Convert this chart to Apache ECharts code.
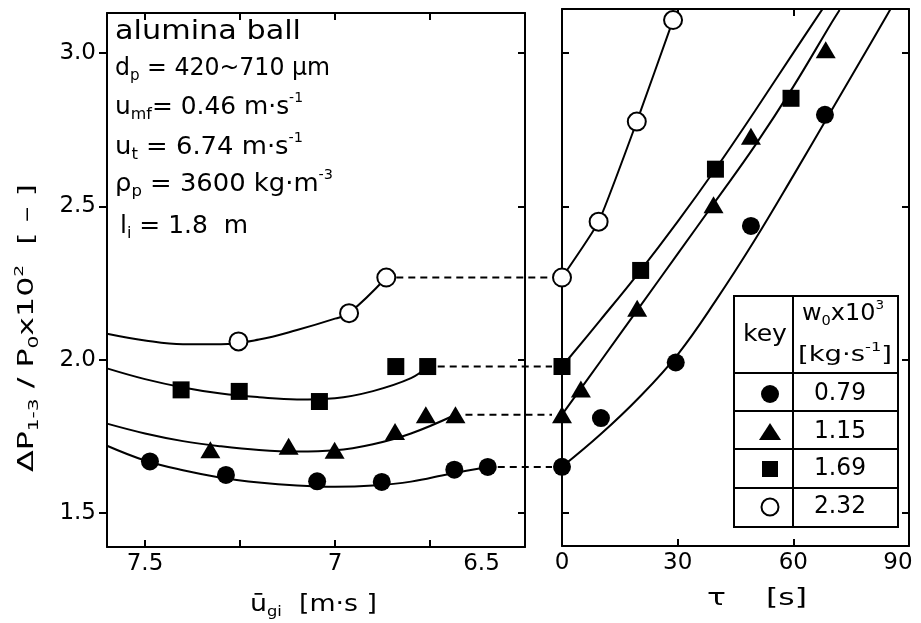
<!DOCTYPE html>
<html>
<head>
<meta charset="utf-8">
<script src="https://cdn.jsdelivr.net/npm/echarts@6/dist/echarts.min.js"></script>
<style>
  html, body { margin: 0; padding: 0; background: #fff; }
  #chart { width: 921px; height: 623px; }
</style>
</head>
<body>
<div id="chart"></div>
<script>
// ---------------- data ----------------
// Left panel: ΔP1-3/P0 ×10^2 against mean gas velocity ū_gi [m/s]
const ugiW079 = [[7.487, 1.669], [7.287, 1.625], [7.047, 1.604], [6.877, 1.602], [6.686, 1.642], [6.598, 1.651]];
const ugiW115 = [[7.328, 1.707], [7.122, 1.718], [7.001, 1.705], [6.842, 1.766], [6.761, 1.821], [6.683, 1.821]];
const ugiW169 = [[7.405, 1.902], [7.252, 1.897], [7.041, 1.864], [6.840, 1.978], [6.756, 1.978]];
const ugiW232 = [[7.254, 2.060], [6.963, 2.152], [6.865, 2.268]];

// fitted curves, left panel
const ugiFit079 = [[7.6, 1.720], [7.5, 1.672], [7.4, 1.640], [7.3, 1.616], [7.2, 1.600], [7.1, 1.590], [7.0, 1.586], [6.9, 1.590], [6.8, 1.603], [6.7, 1.628], [6.598, 1.651]];
const ugiFit115 = [[7.6, 1.792], [7.5, 1.760], [7.4, 1.735], [7.3, 1.718], [7.2, 1.706], [7.1, 1.701], [7.0, 1.705], [6.9, 1.725], [6.8, 1.760], [6.683, 1.821]];
const ugiFit169 = [[7.6, 1.972], [7.5, 1.937], [7.4, 1.910], [7.3, 1.890], [7.2, 1.878], [7.1, 1.871], [7.0, 1.875], [6.9, 1.898], [6.8, 1.940], [6.756, 1.978]];
const ugiFit232 = [[7.6, 2.085], [7.5, 2.063], [7.4, 2.051], [7.3, 2.051], [7.2, 2.066], [7.1, 2.097], [7.0, 2.134], [6.963, 2.152], [6.865, 2.268]];

// Right panel: same ratio against time τ [s]
const tauW079 = [[0, 1.651], [10.1, 1.810], [29.5, 1.991], [49.0, 2.436], [68.2, 2.798]];
const tauW115 = [[0, 1.821], [4.9, 1.905], [19.5, 2.168], [39.3, 2.505], [49.0, 2.728], [68.4, 3.010]];
const tauW169 = [[0, 1.978], [20.4, 2.291], [39.8, 2.621], [59.4, 2.852]];
const tauW232 = [[0, 2.268], [9.5, 2.450], [19.4, 2.776], [28.8, 3.107]];

// fitted curves, right panel
const tauFit079 = [[0, 1.651], [10, 1.757], [20, 1.877], [30, 2.017], [40, 2.195], [50, 2.39], [60, 2.60], [70, 2.815], [80, 3.03], [86, 3.16]];
const tauFit115 = [[0, 1.821], [10, 1.995], [20, 2.17], [30, 2.345], [40, 2.52], [50, 2.697], [60, 2.89], [70, 3.10], [72, 3.14]];
const tauFit169 = [[0, 1.978], [10, 2.13], [20, 2.285], [30, 2.45], [40, 2.625], [50, 2.81], [60, 3.0], [69, 3.17]];

// axis ticks and labels
const ugiTickValues = [6.5, 6.75, 7, 7.25, 7.5];
const ugiLabelValues = [6.5, 7, 7.5];
const ratioTickValues = [1.5, 2.0, 2.5, 3.0];
const tauTickValues = [30, 60];
const tauLabelValues = [0, 30, 60, 90];

// key table
const keyFeedRates = ['0.79', '1.15', '1.69', '2.32'];

// ---------------- styling ----------------
const FONT = '"DejaVu Sans", sans-serif';
const INK = '#000';

const chart = echarts.init(document.getElementById('chart'), null, { renderer: 'canvas' });

function valueAxisBase() {
  return {
    type: 'value',
    splitLine: { show: false },
    axisLine: { show: true, onZero: false, lineStyle: { color: INK, width: 2 } },
    axisTick: { show: true, inside: true, length: 7, lineStyle: { color: INK, width: 2 } },
    axisLabel: { show: false }
  };
}

function xAxisLeft(position, labels) {
  const a = valueAxisBase();
  a.gridIndex = 0; a.position = position; a.min = 6.5; a.max = 7.6; a.inverse = true;
  a.axisTick.customValues = ugiTickValues;
  if (labels) {
    a.axisLabel = {
      show: true, customValues: ugiLabelValues, margin: 6,
      fontSize: 23, fontFamily: FONT, color: INK,
      formatter: v => v === 6.5 ? '{shift|6.5}' : (v === 7 ? '7' : v.toFixed(1)),
      rich: { shift: { padding: [0, 87, 0, 0], fontSize: 23, fontFamily: FONT, color: INK } }
    };
  }
  return a;
}

function xAxisRight(position, labels) {
  const a = valueAxisBase();
  a.gridIndex = 1; a.position = position; a.min = 0; a.max = 90;
  a.axisTick.customValues = tauTickValues;
  if (labels) {
    a.axisLabel = {
      show: true, customValues: tauLabelValues, margin: 6,
      fontSize: 23, fontFamily: FONT, color: INK,
      formatter: v => v === 90 ? '{r|90}' : String(v),
      rich: { r: { padding: [0, 22, 0, 0], fontSize: 23, fontFamily: FONT, color: INK } }
    };
  }
  return a;
}

function yAxisAt(grid, position, labels) {
  const a = valueAxisBase();
  a.gridIndex = grid; a.position = position;
  if (grid === 0) { a.min = 1.39; a.max = 3.13; } else { a.min = 1.393; a.max = 3.143; }
  a.axisTick.customValues = ratioTickValues;
  if (labels) {
    a.axisTick.inside = false;
    a.axisTick.length = 8;
    a.axisLabel = {
      show: true, customValues: ratioTickValues, margin: 11,
      fontSize: 23, fontFamily: FONT, color: INK,
      formatter: v => v.toFixed(1)
    };
  }
  return a;
}

function fitLine(data, g, smooth) {
  return {
    type: 'line', xAxisIndex: g * 2, yAxisIndex: g * 2, data,
    smooth: smooth === undefined ? 0.4 : smooth,
    showSymbol: false, symbol: 'none',
    lineStyle: { color: INK, width: 2 }, clip: true, silent: true, z: 2
  };
}

function marks(data, g, kind) {
  const s = {
    type: 'scatter', xAxisIndex: g * 2, yAxisIndex: g * 2, data, silent: true, z: 5,
    itemStyle: { color: INK, opacity: 1 }
  };
  if (kind === 'dot') { s.symbol = 'circle'; s.symbolSize = 18; }
  if (kind === 'tri') { s.symbol = 'triangle'; s.symbolSize = [20, 17]; }
  if (kind === 'sq') { s.symbol = 'rect'; s.symbolSize = 17; }
  if (kind === 'ring') {
    s.symbol = 'circle'; s.symbolSize = 18;
    s.itemStyle = { color: '#fff', borderColor: INK, borderWidth: 2, opacity: 1 };
  }
  return s;
}

const option = {
  animation: false,
  backgroundColor: '#fff',
  grid: [
    { left: 107, top: 13, width: 418, height: 534 },
    { left: 562, top: 9, width: 347, height: 537 }
  ],
  xAxis: [
    xAxisLeft('bottom', true),
    xAxisLeft('top', false),
    xAxisRight('bottom', true),
    xAxisRight('top', false)
  ],
  yAxis: [
    yAxisAt(0, 'left', true),
    yAxisAt(0, 'right', false),
    yAxisAt(1, 'left', false),
    yAxisAt(1, 'right', false)
  ],
  series: [
    fitLine(ugiFit079, 0), fitLine(ugiFit115, 0), fitLine(ugiFit169, 0), fitLine(ugiFit232, 0),
    fitLine(tauFit079, 1), fitLine(tauFit115, 1), fitLine(tauFit169, 1), fitLine(tauW232, 1, 0.15),
    marks(ugiW079, 0, 'dot'), marks(ugiW115, 0, 'tri'), marks(ugiW169, 0, 'sq'), marks(ugiW232, 0, 'ring'),
    marks(tauW079, 1, 'dot'), marks(tauW115, 1, 'tri'), marks(tauW169, 1, 'sq'), marks(tauW232, 1, 'ring')
  ]
};
chart.setOption(option);

// ---------------- text with sub/superscripts ----------------
const measureCtx = document.createElement('canvas').getContext('2d');
function measure(text, size) {
  measureCtx.font = size + 'px ' + FONT;
  return measureCtx.measureText(text).width;
}

function richText(tokens, x, y, opts) {
  const size = opts.size || 22;
  const sizes = { n: size, sb: Math.round(size * 0.62), sp: Math.round(size * 0.58) };
  let natural = 0;
  tokens.forEach(([k, t]) => { natural += measure(t, sizes[k]); });
  const scaleX = opts.width ? opts.width / natural : 1;
  const half = Math.round(size * 0.62);
  return {
    type: 'text', x, y, rotation: opts.rotation || 0, scaleX, silent: true, z: 20,
    style: {
      x: 0, y: 0,
      text: tokens.map(([k, t]) => '{' + k + '|' + t + '}').join(''),
      align: opts.align || 'left', verticalAlign: 'middle',
      rich: {
        n: { fontSize: sizes.n, fontFamily: FONT, fill: INK, lineHeight: size + 6 },
        sb: { fontSize: sizes.sb, fontFamily: FONT, fill: INK, lineHeight: half, verticalAlign: 'bottom' },
        sp: { fontSize: sizes.sp, fontFamily: FONT, fill: INK, lineHeight: half, verticalAlign: 'top' }
      }
    }
  };
}

const graphics = [];

// material properties block
graphics.push(richText([['n', 'alumina ball']], 115, 32, { size: 27, width: 186 }));
graphics.push(richText([['n', 'd'], ['sb', 'p'], ['n', ' = 420~710 μm']], 115, 68, { size: 25, width: 215 }));
graphics.push(richText([['n', 'u'], ['sb', 'mf'], ['n', '= 0.46 m·s'], ['sp', '-1']], 115, 107, { size: 25, width: 188 }));
graphics.push(richText([['n', 'u'], ['sb', 't'], ['n', ' = 6.74 m·s'], ['sp', '-1']], 115, 147, { size: 25, width: 188 }));
graphics.push(richText([['n', 'ρ'], ['sb', 'p'], ['n', ' = 3600 kg·m'], ['sp', '-3']], 115, 184, { size: 25, width: 218 }));
graphics.push(richText([['n', 'l'], ['sb', 'i'], ['n', ' = 1.8  m']], 120, 226, { size: 25, width: 128 }));

// axis titles
graphics.push(richText([['n', 'ū'], ['sb', 'gi'], ['n', '  [m·s ]']], 250, 605, { size: 23, width: 127 }));
graphics.push(richText([['n', 'τ    [s]']], 707, 599, { size: 23, width: 100 }));
graphics.push(richText(
  [['n', 'ΔP'], ['sb', '1-3'], ['n', ' / P'], ['sb', '0'], ['n', 'x10'], ['sp', '2'], ['n', '  [ – ]']],
  27, 328, { size: 22, width: 288, rotation: Math.PI / 2, align: 'center' }));

// dashed connectors between the two panels
const connectPairs = [
  [ugiW079[ugiW079.length - 1], tauW079[0]],
  [ugiW115[ugiW115.length - 1], tauW115[0]],
  [ugiW169[ugiW169.length - 1], tauW169[0]],
  [ugiW232[ugiW232.length - 1], tauW232[0]]
];
connectPairs.forEach(([a, b]) => {
  const p = chart.convertToPixel({ xAxisIndex: 0, yAxisIndex: 0 }, a);
  const q = chart.convertToPixel({ xAxisIndex: 2, yAxisIndex: 2 }, b);
  graphics.push({
    type: 'line', silent: true, z: 1,
    shape: { x1: p[0] + 10, y1: p[1], x2: q[0] - 10, y2: p[1] },
    style: { stroke: INK, lineWidth: 2, lineDash: [7, 5] }
  });
});

// key table
const tb = { x: 734, y: 296, w: 164, col: 793, rows: [373, 411, 449, 488, 527] };
graphics.push({
  type: 'rect', z: 15, silent: true,
  shape: { x: tb.x, y: tb.y, width: tb.w, height: tb.rows[4] - tb.y },
  style: { fill: '#fff', stroke: INK, lineWidth: 2 }
});
graphics.push({ type: 'line', z: 16, silent: true,
  shape: { x1: tb.col, y1: tb.y, x2: tb.col, y2: tb.rows[4] }, style: { stroke: INK, lineWidth: 2 } });
tb.rows.slice(0, 4).forEach(r => {
  graphics.push({ type: 'line', z: 16, silent: true,
    shape: { x1: tb.x, y1: r, x2: tb.x + tb.w, y2: r }, style: { stroke: INK, lineWidth: 2 } });
});
graphics.push(richText([['n', 'key']], 765, 335, { size: 23, width: 44, align: 'center' }));
graphics.push(richText([['n', 'w'], ['sb', '0'], ['n', 'x10'], ['sp', '3']], 843, 314, { size: 23, width: 82, align: 'center' }));
graphics.push(richText([['n', '[kg·s'], ['sp', '-1'], ['n', ']']], 845, 355, { size: 22, width: 94, align: 'center' }));
const rowMid = [394, 432, 469, 507];
keyFeedRates.forEach((t, i) => {
  graphics.push(richText([['n', t]], 840, rowMid[i], { size: 24, width: 52, align: 'center' }));
});
graphics.push({ type: 'circle', z: 17, silent: true, shape: { cx: 770, cy: rowMid[0], r: 9 }, style: { fill: INK } });
graphics.push({ type: 'polygon', z: 17, silent: true,
  shape: { points: [[770, rowMid[1] - 9], [759, rowMid[1] + 8], [781, rowMid[1] + 8]] }, style: { fill: INK } });
graphics.push({ type: 'rect', z: 17, silent: true,
  shape: { x: 762, y: rowMid[2] - 8, width: 16, height: 16 }, style: { fill: INK } });
graphics.push({ type: 'circle', z: 17, silent: true,
  shape: { cx: 770, cy: rowMid[3], r: 8.5 }, style: { fill: '#fff', stroke: INK, lineWidth: 2 } });

chart.setOption({ graphic: graphics });
</script>
</body>
</html>
